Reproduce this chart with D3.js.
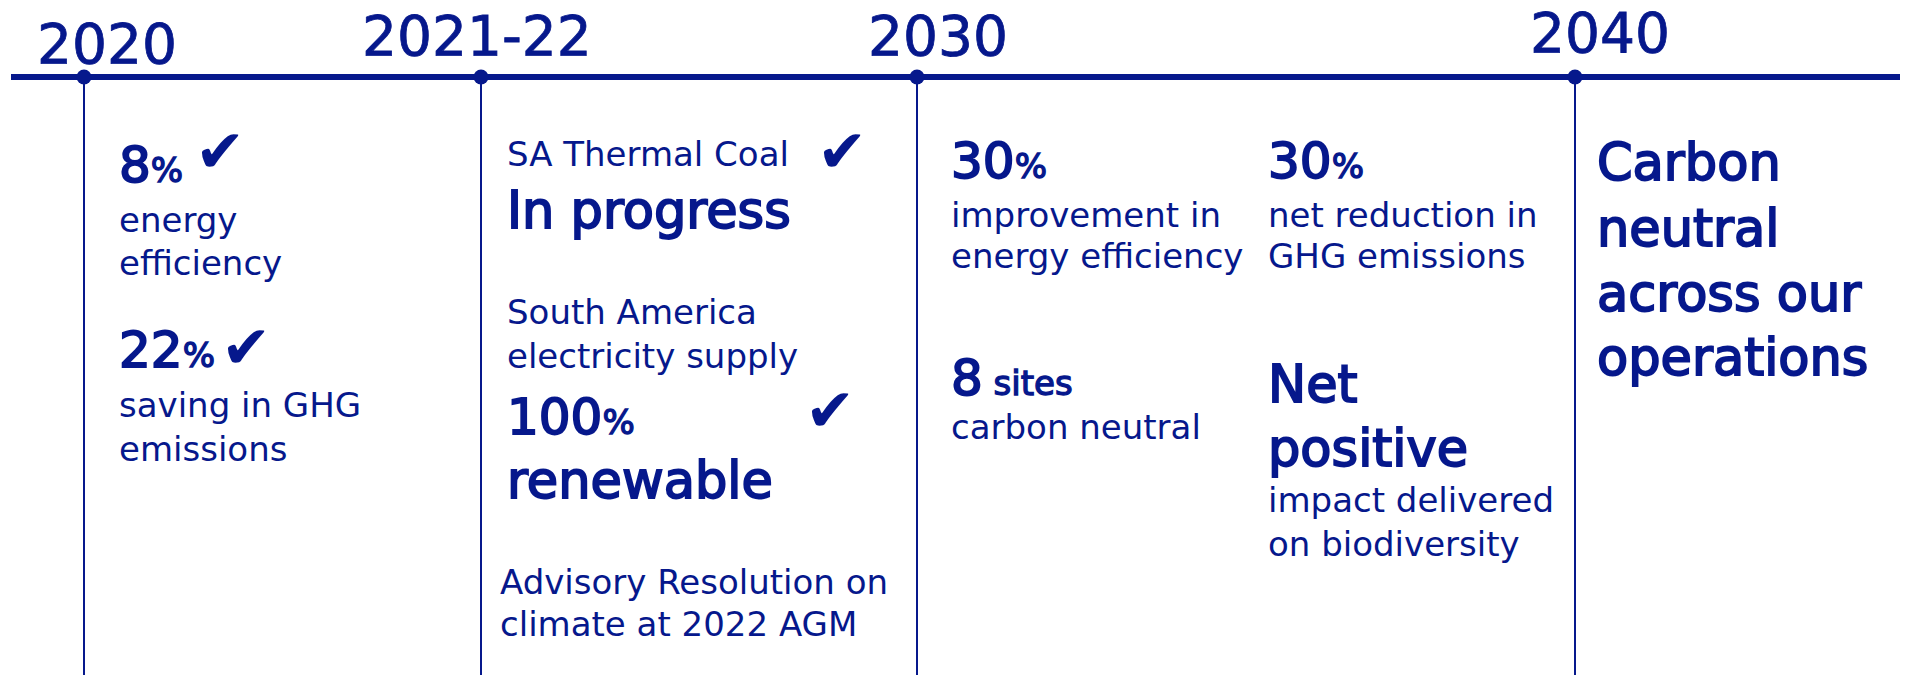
<!DOCTYPE html>
<html>
<head>
<meta charset="utf-8">
<script src="https://cdn.jsdelivr.net/npm/d3@7"></script>
<style>
  html, body { margin: 0; padding: 0; background: #fff; }
  svg { display: block; }
  text { font-family: "DejaVu Sans", sans-serif; fill: #06188c; }
</style>
</head>
<body>
<script>
// timeline milestones
const milestoneYears = ["2020", "2021-22", "2030", "2040"];

// text under each milestone; "fig" = number + unit, "head" = large text, "body" = normal
const items2020 = [
    {type: "fig", text: "8", unit: "%", check: true},
    {type: "body", text: "energy"},
    {type: "body", text: "efficiency"},
    {type: "fig", text: "22", unit: "%", check: true},
    {type: "body", text: "saving in GHG"},
    {type: "body", text: "emissions"}
];
const items2021 = [
    {type: "body", text: "SA Thermal Coal", check: true},
    {type: "head", text: "In progress"},
    {type: "body", text: "South America"},
    {type: "body", text: "electricity supply"},
    {type: "fig", text: "100", unit: "%", check: true},
    {type: "head", text: "renewable"},
    {type: "body", text: "Advisory Resolution on"},
    {type: "body", text: "climate at 2022 AGM"}
];
const items2030a = [
    {type: "fig", text: "30", unit: "%"},
    {type: "body", text: "improvement in"},
    {type: "body", text: "energy efficiency"},
    {type: "fig", text: "8", unit: " sites"},
    {type: "body", text: "carbon neutral"}
];
const items2030b = [
    {type: "fig", text: "30", unit: "%"},
    {type: "body", text: "net reduction in"},
    {type: "body", text: "GHG emissions"},
    {type: "head", text: "Net"},
    {type: "head", text: "positive"},
    {type: "body", text: "impact delivered"},
    {type: "body", text: "on biodiversity"}
];
const items2040 = [
    {type: "head", text: "Carbon"},
    {type: "head", text: "neutral"},
    {type: "head", text: "across our"},
    {type: "head", text: "operations"}
];

// layout
const W = 1911, H = 675;
const COLOR = "#06188c";
const LINE_Y = 77;

const xScale = d3.scaleOrdinal()
    .domain(milestoneYears)
    .range([84, 481, 917, 1575]);

const yearLabelLayout = {
    "2020":    {dx: -47,  y: 63},
    "2021-22": {dx: -119, y: 55},
    "2030":    {dx: -49,  y: 55},
    "2040":    {dx: -45,  y: 52}
};

// columns: x of the text, baselines of each line, where the check marks go (x, bottom y)
const columns = [
    {items: items2020,  x: 119,  ys: [182, 232, 275, 367, 417, 461],
        checks: [[195, 172], [221, 368]]},
    {items: items2021,  x: 507,  ys: [166, 228, 324, 368, 434, 498, 594, 636],
        checks: [[817, 172], [805, 431]], firstX: {6: 500, 7: 500}},
    {items: items2030a, x: 951,  ys: [178, 227, 268, 395, 439]},
    {items: items2030b, x: 1268, ys: [178, 227, 268, 402, 466, 512, 556]},
    {items: items2040,  x: 1597, ys: [180, 246, 311, 375]}
];

const fontSizes = {body: 34, head: 51, fig: 50, unit: 34, year: 55, check: 60};

var svg = d3.select("body").append("svg")
    .attr("width", W)
    .attr("height", H);

// main horizontal line
svg.append("line")
    .attr("x1", 11)
    .attr("x2", 1900)
    .attr("y1", LINE_Y)
    .attr("y2", LINE_Y)
    .style("stroke", COLOR)
    .style("stroke-width", 6);

// vertical drop lines
svg.selectAll(".drop")
    .data(milestoneYears)
    .enter()
    .append("line")
    .attr("class", "drop")
    .attr("x1", d => xScale(d))
    .attr("x2", d => xScale(d))
    .attr("y1", LINE_Y)
    .attr("y2", H)
    .style("stroke", COLOR)
    .style("stroke-width", 2);

// dots
svg.selectAll(".dot")
    .data(milestoneYears)
    .enter()
    .append("circle")
    .attr("class", "dot")
    .attr("cx", d => xScale(d))
    .attr("cy", LINE_Y)
    .attr("r", 7.5)
    .style("fill", COLOR);

// year labels
svg.selectAll(".year")
    .data(milestoneYears)
    .enter()
    .append("text")
    .attr("class", "year")
    .attr("x", d => xScale(d) + yearLabelLayout[d].dx)
    .attr("y", d => yearLabelLayout[d].y)
    .attr("font-size", fontSizes.year + "px")
    .style("stroke", COLOR)
    .style("stroke-width", 0.8)
    .text(d => d);

// column text
columns.forEach(function(col) {
    var checkIdx = 0;
    col.items.forEach(function(item, i) {
        var x = (col.firstX && col.firstX[i]) ? col.firstX[i] : col.x;
        var t = svg.append("text")
            .attr("x", x)
            .attr("y", col.ys[i]);

        if (item.type === "body") {
            t.attr("font-size", fontSizes.body + "px").text(item.text);
        } else if (item.type === "head") {
            t.attr("font-size", fontSizes.head + "px")
                .style("stroke", COLOR)
                .style("stroke-width", 1.9)
                .text(item.text);
        } else {
            t.append("tspan")
                .attr("font-size", fontSizes.fig + "px")
                .style("stroke", COLOR)
                .style("stroke-width", 1.9)
                .text(item.text);
            t.append("tspan")
                .attr("font-size", fontSizes.unit + "px")
                .style("stroke", COLOR)
                .style("stroke-width", 1.3)
                .style("white-space", "pre")
                .attr("xml:space", "preserve")
                .text(item.unit);
        }

        if (item.check) {
            var c = col.checks[checkIdx];
            svg.append("text")
                .attr("x", c[0])
                .attr("y", c[1])
                .attr("font-size", fontSizes.check + "px")
                .text("\u2714");
            checkIdx++;
        }
    });
});
</script>
</body>
</html>
